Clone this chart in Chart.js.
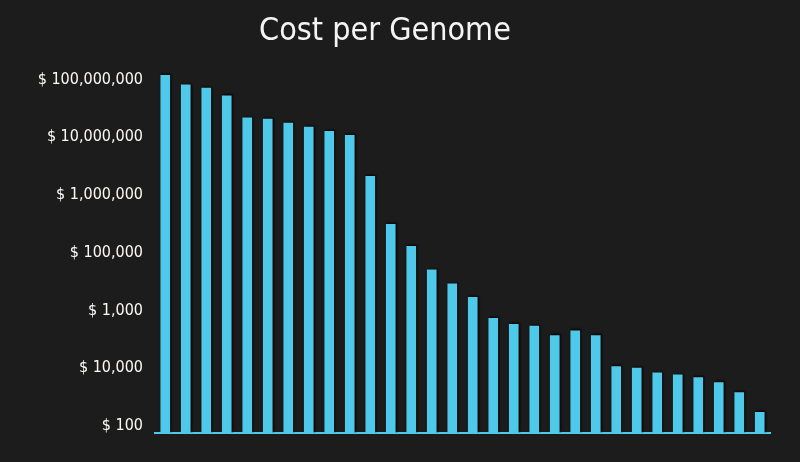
<!DOCTYPE html>
<html>
<head>
<meta charset="utf-8">
<script src="https://cdn.jsdelivr.net/npm/chart.js@4"></script>
<style>
  html, body { margin: 0; padding: 0; background: #1c1c1c; }
  #wrap { width: 800px; height: 462px; }
</style>
</head>
<body>
<div id="wrap"><canvas id="genomeChart"></canvas></div>
<script>
// Periods (not labelled on the chart itself)
const periods = ['1', '2', '3', '4', '5', '6', '7', '8', '9', '10',
                 '11', '12', '13', '14', '15', '16', '17', '18', '19', '20',
                 '21', '22', '23', '24', '25', '26', '27', '28', '29', '30'];

// Cost per genome
const costs = [120000000, 82000000, 72000000, 53000000, 22000000, 21000000, 17900000, 15200000, 12800000, 10900000,
               2140000, 313000, 131000, 51000, 29100, 17000, 7350, 5780, 5420, 3720,
               4490, 3720, 1075, 1010, 835, 771, 692, 566, 380, 173];

// Tick values and the labels printed next to them
const tickValues = [100, 1000, 10000, 100000, 1000000, 10000000, 100000000];
const tickLabels = ['$ 100', '$ 10,000', '$ 1,000', '$ 100,000', '$ 1,000,000', '$ 10,000,000', '$ 100,000,000'];

const FONT = '"DejaVu Sans Condensed", "DejaVu Sans", sans-serif';
const BLUE = '#4fc9e9';

// dark drop shadow behind the bars, like the original
const barShadow = {
    id: 'barShadow',
    beforeDatasetsDraw(chart) {
        const c = chart.ctx;
        c.save();
        c.shadowColor = 'rgba(0, 0, 0, 0.9)';
        c.shadowBlur = 2;
        c.shadowOffsetX = 1;
        c.shadowOffsetY = -1;
    },
    afterDatasetsDraw(chart) {
        chart.ctx.restore();
    }
};

const ctx = document.getElementById('genomeChart').getContext('2d');
new Chart(ctx, {
    type: 'bar',
    data: {
        labels: periods,
        datasets: [{
            label: 'Cost per Genome',
            data: costs,
            backgroundColor: BLUE,
            borderWidth: 0,
            barPercentage: 0.47,
            categoryPercentage: 1.0
        }]
    },
    options: {
        responsive: true,
        maintainAspectRatio: false,
        animation: false,
        layout: {
            padding: { left: 0, right: 30, top: 0, bottom: 21 }
        },
        plugins: {
            legend: { display: false },
            tooltip: { enabled: false },
            title: {
                display: true,
                text: 'Cost per Genome',
                color: '#f4f4f4',
                font: { family: FONT, size: 32, weight: 'normal' },
                padding: { top: 12, bottom: 19 }
            }
        },
        scales: {
            x: {
                grid: { display: false },
                ticks: { display: false },
                border: { display: true, color: BLUE, width: 2 }
            },
            y: {
                type: 'logarithmic',
                min: 75,
                max: 150000000,
                grid: { display: false },
                border: { display: false },
                afterBuildTicks: (scale) => {
                    scale.ticks = tickValues.map(v => ({ value: v }));
                },
                afterFit: (scale) => {
                    scale.width = 155;
                },
                ticks: {
                    color: '#fbfaf5',
                    padding: 4,
                    font: { family: FONT, size: 16 },
                    callback: (value, index) => tickLabels[index]
                }
            }
        }
    },
    plugins: [barShadow]
});
</script>
</body>
</html>
